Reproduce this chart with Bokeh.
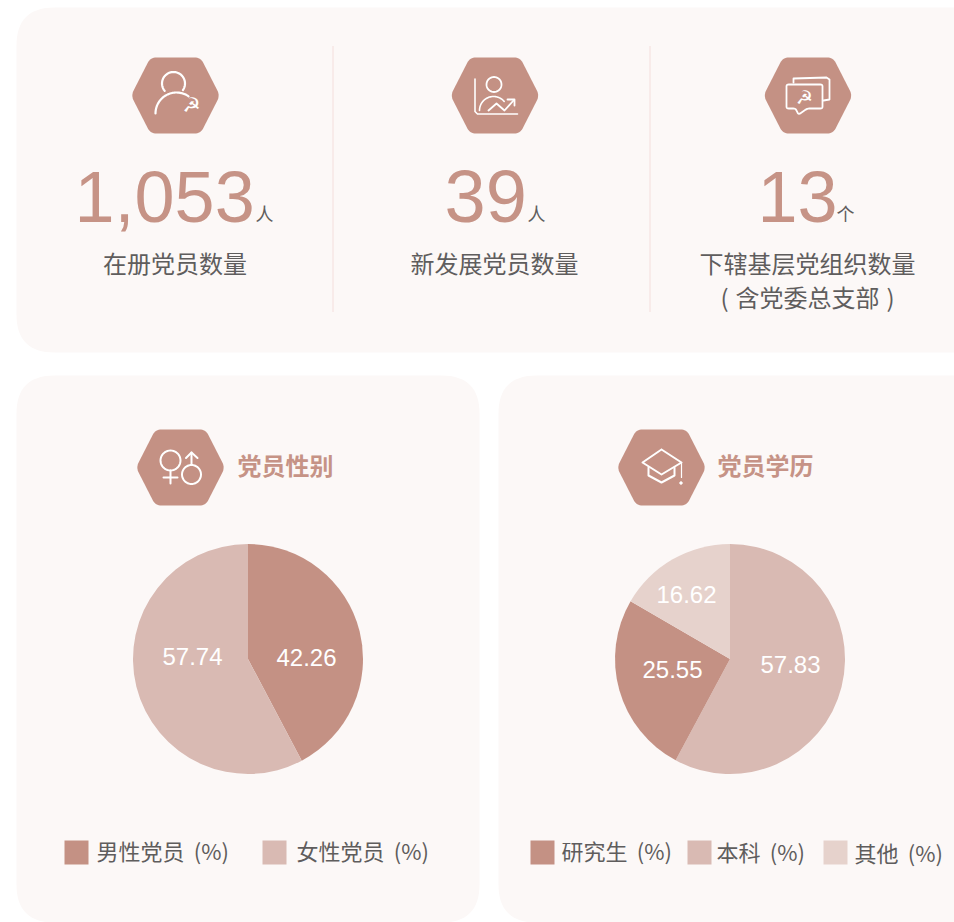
import math
from bokeh.plotting import figure
from bokeh.models import Range1d, ColumnDataSource
from bokeh.core.properties import value
from bokeh.embed import file_html
from bokeh.resources import INLINE

# ---------- data ----------
metric_values = ["1,053", "39", "13"]
metric_units = ["人", "人", "个"]
metric_labels = ["在册党员数量", "新发展党员数量", "下辖基层党组织数量"]
metric_note = "( \u200a含党委总支部\u200a )"
gender_title = "党员性别"
gender_names = ["男性党员\u2009 (%)", "女性党员\u2009 (%)"]
gender_values = [42.26, 57.74]
edu_title = "党员学历"
edu_names = ["研究生\u2009 (%)", "本科\u2009 (%)", "其他\u2009 (%)"]
edu_values = [25.55, 57.83, 16.62]

# ---------- style ----------
CARD = "#fcf8f7"
HEX = "#c49184"
NUM = "#c69386"
TXT = "#5f5d5d"
PIE = {"dark": "#c49184", "mid": "#d9bab3", "light": "#e6d2cc"}
CJK = value("Noto Sans CJK SC")
W, H = 954, 922

p = figure(width=W, height=H, output_backend="svg", toolbar_location=None,
           x_range=Range1d(0, W), y_range=Range1d(H, 0), min_border=0,
           outline_line_color=None, background_fill_color="white",
           border_fill_color="white")
p.axis.visible = False
p.grid.visible = False


def rounded(poly, r, n=8):
    xs, ys = [], []
    m = len(poly)
    for i in range(m):
        x0, y0 = poly[i - 1]
        x1, y1 = poly[i]
        x2, y2 = poly[(i + 1) % m]
        d0 = math.hypot(x0 - x1, y0 - y1)
        d2 = math.hypot(x2 - x1, y2 - y1)
        ax, ay = x1 + (x0 - x1) * r / d0, y1 + (y0 - y1) * r / d0
        bx, by = x1 + (x2 - x1) * r / d2, y1 + (y2 - y1) * r / d2
        for k in range(n + 1):
            t = k / n
            xs.append((1 - t) ** 2 * ax + 2 * t * (1 - t) * x1 + t * t * bx)
            ys.append((1 - t) ** 2 * ay + 2 * t * (1 - t) * y1 + t * t * by)
    return xs, ys


def card(x0, y0, x1, y1, r=38):
    xs, ys = rounded([(x0, y0), (x1, y0), (x1, y1), (x0, y1)], r, 16)
    p.patch(xs, ys, fill_color=CARD, line_color=None)


def hexagon(cx, cy):
    pts = [(cx - 44.5, cy), (cx - 25, cy - 38), (cx + 25, cy - 38),
           (cx + 44.5, cy), (cx + 25, cy + 38), (cx - 25, cy + 38)]
    xs, ys = rounded(pts, 6)
    p.patch(xs, ys, fill_color=HEX, line_color=None)


def stroke(pts, w=1.8, color="white"):
    p.line([a for a, _ in pts], [b for _, b in pts], line_color=color, line_width=w,
           line_cap="round", line_join="round")


def arc(cx, cy, r, a0, a1, w=1.8):
    n = 40
    stroke([(cx + r * math.cos(math.radians(a0 + (a1 - a0) * i / n)),
             cy + r * math.sin(math.radians(a0 + (a1 - a0) * i / n))) for i in range(n + 1)], w)


def txt(x, y, s, size, color=TXT, align="center", base="middle", font=CJK, style="normal"):
    p.text([x], [y], text=[s], text_font=font, text_font_size=f"{size}px", text_color=color,
           text_align=align, text_baseline=base, text_font_style=style)


def emblem(x, y, size):
    txt(x, y, "☭", size, color="white", font=value("DejaVu Sans"), style="bold")


# ---------- cards ----------
card(16, 7, 990, 352)
card(16, 375, 479, 922)
card(498, 375, 990, 922)

# separators
for sx in (332.5, 649.5):
    p.line([sx, sx], [46, 312], line_color="#ecc4c0", line_width=1, line_dash="1 1")

# ---------- metric icons ----------
hexagon(175, 95)
arc(173, 83, 11.5, 140, 395, 2.2)
arc(176, 113, 21, 180, 305, 2.2)
emblem(191, 104, 20)

hexagon(494.5, 95)
arc(493.5, 84, 7.5, 0, 360, 1.8)
stroke([(474.5, 78.5), (474.5, 111), (477, 113.5), (517, 113.5)], 1.6)
arc(493, 110, 14, 180, 320, 1.6)
stroke([(488, 110), (496, 103), (504, 110), (513, 100)], 1.8)
stroke([(507, 99), (514, 99), (514, 105)], 1.8)

hexagon(807.5, 95)
stroke([(793, 82), (793, 78), (826, 77), (829, 79), (829, 99), (823, 100)], 1.8)
xs_b, ys_b = rounded([(786, 84), (822, 84), (822, 108), (807, 108), (798, 114), (795, 108), (786, 108)], 2)
p.patch(xs_b, ys_b, fill_color=HEX, line_color="white", line_width=1.8)
emblem(804, 96, 19)

# ---------- metrics ----------
num_font = value("Liberation Sans")
for x, s, sz in zip((74, 444, 757), metric_values, (72, 74, 72)):
    txt(x, 196, s, sz, color=NUM, align="left", font=num_font)
for x, s in zip((255, 527, 836), metric_units):
    txt(x, 212, s, 18, align="left")
for x, s in zip((174.5, 494, 807), metric_labels):
    txt(x, 262, s, 24)
txt(807, 296, metric_note, 24)


# ---------- pies ----------
def pie(cx, cy, r, vals, cols):
    ang = [0.0]
    for v in vals:
        ang.append(ang[-1] + v / sum(vals) * 2 * math.pi)
    # Clockwise from twelve o'clock.
    src = ColumnDataSource(dict(
        start=[math.pi / 2 - a for a in ang[:-1]],
        end=[math.pi / 2 - a for a in ang[1:]],
        color=cols))
    p.wedge(x=cx, y=cy, radius=r, start_angle="start", end_angle="end", direction="clock",
            fill_color="color", line_color=None, source=src)


pie(247.5, 658.5, 115, gender_values, [PIE["dark"], PIE["mid"]])
# Education runs 本科, 研究生, 其他 clockwise from the top.
pie(729.5, 658.5, 115, [edu_values[1], edu_values[0], edu_values[2]],
    [PIE["mid"], PIE["dark"], PIE["light"]])

lab_font = value("Liberation Sans")
for (x, y), v in zip([(306, 657), (192, 656)], gender_values):
    txt(x, y, f"{v:.2f}", 24, color="white", font=lab_font)
for (x, y), v in zip([(672, 669), (790, 664), (686, 594)], edu_values):
    txt(x, y, f"{v:.2f}", 24, color="white", font=lab_font)

# ---------- section titles ----------
hexagon(180, 467)
arc(170, 460, 10, 0, 360, 2)
stroke([(170, 470), (170, 483)], 2)
stroke([(163, 477), (177, 477)], 2)
arc(191, 474, 9.5, 0, 360, 2)
stroke([(191, 464.5), (191, 452)], 2)
stroke([(185.5, 457.5), (191, 452), (197, 457.5)], 2)
txt(237, 464, gender_title, 24, color=NUM, align="left", style="bold")

hexagon(661, 467)
stroke([(661, 449), (642, 462), (661, 474), (681, 462), (661, 449)], 2)
stroke([(648, 467), (648, 475), (661, 482), (674, 475), (674, 467)], 2)
stroke([(681, 462), (681, 477)], 1.2)
p.scatter([680.5], [482.5], size=2.5, color="white")
txt(717, 464, edu_title, 24, color=NUM, align="left", style="bold")

# ---------- legends ----------
for x, tx, s, c in zip((64, 262), (96, 296), gender_names, (PIE["dark"], PIE["mid"])):
    p.rect([x + 12], [852], width=24, height=24, fill_color=c, line_color=None)
    txt(tx, 849, s, 22, align="left")
for x, tx, s, c, ty in zip((530, 687, 823), (561, 716, 854), edu_names,
                           (PIE["dark"], PIE["mid"], PIE["light"]), (849, 850, 851)):
    p.rect([x + 12], [852], width=24, height=24, fill_color=c, line_color=None)
    txt(tx, ty, s, 22, align="left")

open("out.html", "w").write(file_html(p, INLINE))
